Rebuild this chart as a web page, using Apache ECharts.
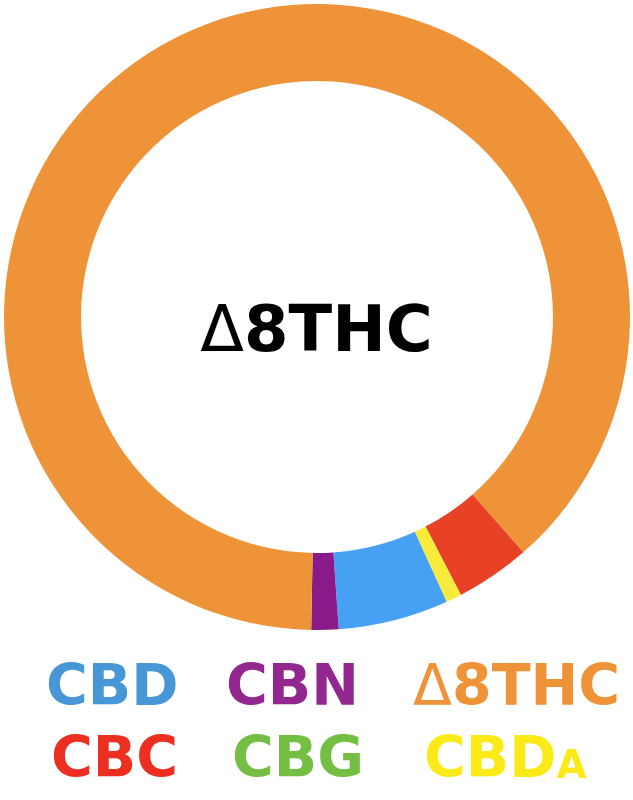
<!DOCTYPE html>
<html>
<head>
<meta charset="utf-8">
<script src="https://cdn.jsdelivr.net/npm/echarts@6/dist/echarts.min.js"></script>
<style>
  html, body { margin: 0; padding: 0; background: #ffffff; }
  #chart { width: 633px; height: 800px; }
</style>
</head>
<body>
<div id="chart"></div>
<script>
// ---- data ----
const categories = ['CBD', 'CBN', 'Δ8THC', 'CBC', 'CBG', 'CBDa'];
const shares = [5.7, 1.4, 88.25, 3.85, 0, 0.8];           // percent of ring
const sliceColors = ['#46A1F5', '#8A1A8A', '#EF9338', '#E84226', '#74BE44', '#F8EB3C'];
const labelColors = ['#4796D6', '#92278F', '#EF9338', '#EC2F20', '#74BE44', '#FCE918'];
const centerLabel = 'Δ8THC';

// ---- layout ----
const legendSlots = [
  { left: 41, top: 660 }, { left: 221, top: 660 }, { left: 408, top: 660 },
  { left: 46, top: 732 }, { left: 227, top: 732 }, { left: 419, top: 732 }
];
const FONT = '"DejaVu Sans", sans-serif';
const LEG_SIZE = 57;

function fmt(name) {
  if (name.charAt(0) === 'Δ') return '{d|Δ}{b|' + name.slice(1) + '}';
  const m = name.match(/^([A-Z0-9]+)([a-z]+)$/);
  if (m) return '{b|' + m[1] + '}{s|' + m[2].toUpperCase() + '}';
  return '{b|' + name + '}';
}
function richFor(color, size) {
  return {
    b: { fontFamily: FONT, fontWeight: 'bold', fontSize: size, color: color, lineHeight: 60 },
    d: { fontFamily: FONT, fontWeight: 'normal', fontSize: size, color: color, lineHeight: 60 },
    s: { fontFamily: FONT, fontWeight: 'bold', fontSize: Math.round(size * 0.68), color: color, lineHeight: 60, padding: [11, 0, 0, 0] }
  };
}

const chart = echarts.init(document.getElementById('chart'), null, { renderer: 'canvas' });

const legends = categories.map((name, i) => ({
  show: true,
  data: [name],
  left: legendSlots[i].left,
  top: legendSlots[i].top,
  padding: 0,
  icon: 'none',
  itemWidth: 0,
  itemHeight: 0,
  selectedMode: false,
  formatter: fmt,
  textStyle: { color: labelColors[i], fontSize: LEG_SIZE, fontFamily: FONT, fontWeight: 'bold', lineHeight: 60, rich: richFor(labelColors[i], LEG_SIZE) }
}));

chart.setOption({
  backgroundColor: '#ffffff',
  animation: false,
  title: {
    text: fmt(centerLabel),
    left: 'center',
    top: 302,
    padding: 0,
    textStyle: { rich: {
      b: { fontFamily: FONT, fontWeight: 'bold', fontSize: 64, color: '#000000', lineHeight: 64 },
      d: { fontFamily: FONT, fontWeight: 'normal', fontSize: 64, color: '#000000', lineHeight: 64 }
    } }
  },
  legend: legends,
  series: [{
    type: 'pie',
    center: [317, 317],
    radius: [236, 313],
    startAngle: -65.5,
    clockwise: true,
    silent: true,
    label: { show: false },
    labelLine: { show: false },
    emphasis: { disabled: true },
    itemStyle: { borderWidth: 0 },
    data: categories.map((name, i) => ({ name: name, value: shares[i], itemStyle: { color: sliceColors[i] } }))
  }]
});
</script>
</body>
</html>
